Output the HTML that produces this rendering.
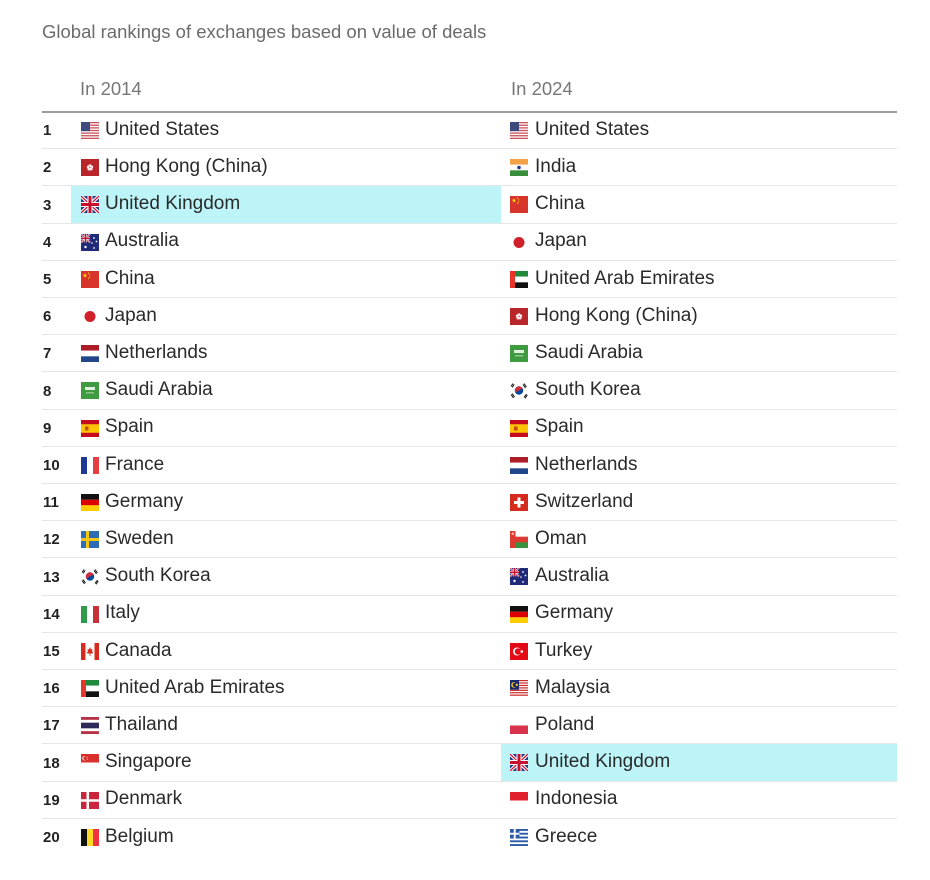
<!DOCTYPE html>
<html><head><meta charset="utf-8">
<style>
html,body{margin:0;padding:0}
body{width:930px;height:880px;background:#fff;position:relative;overflow:hidden;font-family:"Liberation Sans",Arial,sans-serif;}
.title{position:absolute;left:42px;top:23px;font-size:18.5px;line-height:1;color:#6b6b6b;white-space:nowrap}
.h{position:absolute;top:80px;font-size:18.5px;line-height:1;color:#777;white-space:nowrap}
.hl{position:absolute;left:42px;width:855px;top:111px;height:1.5px;background:#9d9d9d}
.hi{position:absolute;background:#bcf4f8;height:37.2px}
.row{position:absolute;left:42px;width:855px;height:37.2px;box-sizing:border-box;border-bottom:1px solid #e6e6e6}
.row.last{border-bottom:none}
.rk{position:absolute;left:1px;top:11.3px;font-size:15px;font-weight:bold;line-height:1;color:#222}
.f{position:absolute;top:10px;width:18px;height:17px}
.f1{left:39px}
.f2{left:468px}
.t{position:absolute;top:7.9px;font-size:19px;line-height:1;color:#2a2a2a;white-space:nowrap}
.t1{left:63px}
.t2{left:493px}
</style></head><body>
<svg width="0" height="0" style="position:absolute">
<defs>
<symbol id="uk" viewBox="0 0 18 17"><rect width="18" height="17" fill="#283a80"/><path d="M0,0L18,17M18,0L0,17" stroke="#fff" stroke-width="3.4"/><path d="M0,0L18,17M18,0L0,17" stroke="#c8102e" stroke-width="1.2"/><path d="M9,0V17M0,8.5H18" stroke="#fff" stroke-width="5"/><path d="M9,0V17M0,8.5H18" stroke="#c8102e" stroke-width="3"/></symbol>
<symbol id="us" viewBox="0 0 18 17"><rect width="18" height="17" fill="#fff"/><g fill="#c9525c"><rect y="0" width="18" height="1.31"/><rect y="2.62" width="18" height="1.31"/><rect y="5.23" width="18" height="1.31"/><rect y="7.85" width="18" height="1.31"/><rect y="10.46" width="18" height="1.31"/><rect y="13.08" width="18" height="1.31"/><rect y="15.69" width="18" height="1.31"/></g><rect width="9" height="9.15" fill="#3d4b7c"/></symbol>
<symbol id="hk" viewBox="0 0 18 17"><rect width="18" height="17" fill="#b8262c"/><g fill="#fff" opacity="0.9"><circle cx="9" cy="6.7" r="1.5"/><circle cx="10.71" cy="7.94" r="1.5"/><circle cx="10.06" cy="9.96" r="1.5"/><circle cx="7.94" cy="9.96" r="1.5"/><circle cx="7.29" cy="7.94" r="1.5"/></g><circle cx="9" cy="8.5" r="0.6" fill="#b8262c"/></symbol>
<symbol id="au" viewBox="0 0 18 17"><rect width="18" height="17" fill="#1f2a78"/><g transform="scale(0.5)"><path d="M0,0L18,17M18,0L0,17" stroke="#fff" stroke-width="3.4"/><path d="M0,0L18,17M18,0L0,17" stroke="#c8102e" stroke-width="1.2"/><path d="M9,0V17M0,8.5H18" stroke="#fff" stroke-width="5"/><path d="M9,0V17M0,8.5H18" stroke="#c8102e" stroke-width="3"/></g><g fill="#fff"><circle cx="4.5" cy="13" r="1.2"/><circle cx="13" cy="4" r="0.9"/><circle cx="15.5" cy="7.5" r="0.9"/><circle cx="13" cy="14" r="0.9"/><circle cx="11" cy="9" r="0.8"/></g></symbol>
<symbol id="cn" viewBox="0 0 18 17"><rect width="18" height="17" fill="#d7352b"/><polygon fill="#ffde00" points="4,2 4.56,3.73 6.38,3.73 4.9,4.79 5.47,6.52 4,5.45 2.53,6.52 3.1,4.79 1.62,3.73 3.44,3.73"/><g fill="#ffde00"><circle cx="7.5" cy="2" r="0.6"/><circle cx="8.6" cy="3.8" r="0.6"/><circle cx="8.6" cy="6" r="0.6"/><circle cx="7.5" cy="7.5" r="0.6"/></g></symbol>
<symbol id="jp" viewBox="0 0 18 17"><circle cx="9" cy="8.5" r="5.5" fill="#d0202a"/></symbol>
<symbol id="nl" viewBox="0 0 18 17"><rect width="18" height="5.67" fill="#ae1c28"/><rect y="5.67" width="18" height="5.66" fill="#fff"/><rect y="11.33" width="18" height="5.67" fill="#21468b"/></symbol>
<symbol id="sa" viewBox="0 0 18 17"><rect width="18" height="17" fill="#3f9b3f"/><rect x="4" y="5" width="10" height="3" fill="#fff" opacity="0.85"/><rect x="5" y="10.5" width="8" height="0.8" fill="#fff" opacity="0.8"/></symbol>
<symbol id="es" viewBox="0 0 18 17"><rect width="18" height="17" fill="#c60b1e"/><rect y="4.25" width="18" height="8.5" fill="#ffc400"/><rect x="4" y="6.5" width="3.5" height="4" fill="#ad1519" opacity="0.7"/></symbol>
<symbol id="fr" viewBox="0 0 18 17"><rect width="6" height="17" fill="#1f3a93"/><rect x="6" width="6" height="17" fill="#fff"/><rect x="12" width="6" height="17" fill="#e53f43"/></symbol>
<symbol id="de" viewBox="0 0 18 17"><rect width="18" height="5.67" fill="#111"/><rect y="5.67" width="18" height="5.66" fill="#dd0000"/><rect y="11.33" width="18" height="5.67" fill="#ffce00"/></symbol>
<symbol id="se" viewBox="0 0 18 17"><rect width="18" height="17" fill="#2e6db5"/><rect x="5" width="3" height="17" fill="#f5c518"/><rect y="7" width="18" height="3" fill="#f5c518"/></symbol>
<symbol id="kr" viewBox="0 0 18 17"><g transform="rotate(-30 9 8.5)"><circle cx="9" cy="8.5" r="4.2" fill="#0047a0"/><path d="M4.8,8.5A4.2,4.2 0 0 1 13.2,8.5Z" fill="#cd2e3a"/></g><g stroke="#111" stroke-width="1"><path d="M1,4.5L3,1.5M2.2,5.3L4.2,2.3"/><path d="M14,1.5L16.5,5M13,2.4L15.5,5.9"/><path d="M1,12.5L3.5,16M2,11.6L4.5,15.1"/><path d="M14,15.5L16.5,12M15,16.3L17.3,13"/></g></symbol>
<symbol id="it" viewBox="0 0 18 17"><rect width="6" height="17" fill="#2e9a4a"/><rect x="6" width="6" height="17" fill="#fff"/><rect x="12" width="6" height="17" fill="#c8313a"/></symbol>
<symbol id="ca" viewBox="0 0 18 17"><rect width="4.5" height="17" fill="#d52b1e"/><rect x="13.5" width="4.5" height="17" fill="#d52b1e"/><path d="M9,4L10,6.5L11.5,6L11,9L12.5,8.5L11.5,10.5L9.4,10.5V13H8.6V10.5L6.5,10.5L5.5,8.5L7,9L6.5,6L8,6.5Z" fill="#d52b1e"/></symbol>
<symbol id="ae" viewBox="0 0 18 17"><rect width="5" height="17" fill="#e8352a"/><rect x="5" width="13" height="5.67" fill="#1f8a3c"/><rect x="5" y="5.67" width="13" height="5.66" fill="#fff"/><rect x="5" y="11.33" width="13" height="5.67" fill="#111"/></symbol>
<symbol id="th" viewBox="0 0 18 17"><rect width="18" height="2.83" fill="#b83245"/><rect y="5.67" width="18" height="5.66" fill="#2d2a5a"/><rect y="14.17" width="18" height="2.83" fill="#b83245"/></symbol>
<symbol id="sg" viewBox="0 0 18 17"><rect width="18" height="8.5" fill="#d9302e"/><circle cx="3.5" cy="4.2" r="2.2" fill="#fff"/><circle cx="4.3" cy="4.2" r="1.9" fill="#d9302e"/><circle cx="6.2" cy="3.2" r="0.5" fill="#fff"/><circle cx="6.2" cy="5.2" r="0.5" fill="#fff"/></symbol>
<symbol id="dk" viewBox="0 0 18 17"><rect width="18" height="17" fill="#c8273d"/><rect x="5.5" width="2.5" height="17" fill="#fff"/><rect y="7.25" width="18" height="2.5" fill="#fff"/></symbol>
<symbol id="be" viewBox="0 0 18 17"><rect width="6" height="17" fill="#111"/><rect x="6" width="6" height="17" fill="#fdda24"/><rect x="12" width="6" height="17" fill="#ef3340"/></symbol>
<symbol id="in" viewBox="0 0 18 17"><rect width="18" height="5.67" fill="#f4a145"/><rect y="5.67" width="18" height="5.66" fill="#fff"/><rect y="11.33" width="18" height="5.67" fill="#3a8d3a"/><circle cx="9" cy="8.5" r="1.8" fill="#1c3a8a"/></symbol>
<symbol id="ch" viewBox="0 0 18 17"><rect width="18" height="17" fill="#d52b1e"/><rect x="7.5" y="3.5" width="3" height="10" fill="#fff"/><rect x="4" y="7" width="10" height="3" fill="#fff"/></symbol>
<symbol id="om" viewBox="0 0 18 17"><rect width="18" height="17" fill="#db3b30"/><rect x="5.5" width="12.5" height="5.67" fill="#fff"/><rect x="5.5" y="11.33" width="12.5" height="5.67" fill="#3a9340"/><circle cx="2.7" cy="2.7" r="1.2" fill="#fff" opacity="0.7"/></symbol>
<symbol id="tr" viewBox="0 0 18 17"><rect width="18" height="17" fill="#e30a17"/><circle cx="7" cy="8.5" r="4" fill="#fff"/><circle cx="8" cy="8.5" r="3.2" fill="#e30a17"/><circle cx="11.8" cy="8.5" r="1.3" fill="#fff"/></symbol>
<symbol id="my" viewBox="0 0 18 17"><rect width="18" height="17" fill="#fff"/><g fill="#cc2a2a"><rect y="0" width="18" height="1.21"/><rect y="2.43" width="18" height="1.21"/><rect y="4.86" width="18" height="1.21"/><rect y="7.29" width="18" height="1.21"/><rect y="9.71" width="18" height="1.21"/><rect y="12.14" width="18" height="1.21"/><rect y="14.57" width="18" height="1.21"/></g><rect width="9" height="9.7" fill="#1c2a6e"/><circle cx="4" cy="4.85" r="2.8" fill="#f5c518"/><circle cx="5" cy="4.85" r="2.3" fill="#1c2a6e"/><circle cx="6.8" cy="4.85" r="1.2" fill="#f5c518"/></symbol>
<symbol id="pl" viewBox="0 0 18 17"><rect y="8.5" width="18" height="8.5" fill="#d8334a"/></symbol>
<symbol id="id" viewBox="0 0 18 17"><rect width="18" height="8.5" fill="#e0202d"/></symbol>
<symbol id="gr" viewBox="0 0 18 17"><rect width="18" height="17" fill="#fff"/><g fill="#2b5ba8"><rect y="0" width="18" height="1.89"/><rect y="3.78" width="18" height="1.89"/><rect y="7.56" width="18" height="1.89"/><rect y="11.33" width="18" height="1.89"/><rect y="15.11" width="18" height="1.89"/><rect width="9.44" height="9.44"/></g><rect x="3.78" width="1.89" height="9.44" fill="#fff"/><rect y="3.78" width="9.44" height="1.89" fill="#fff"/></symbol>
</defs></svg>

<div class="title">Global rankings of exchanges based on value of deals</div>
<div class="h" style="left:80px">In 2014</div>
<div class="h" style="left:511px">In 2024</div>
<div class="hl"></div>

<div class="hi" style="left:71px;top:186.4px;width:430px"></div>
<div class="hi" style="left:501px;top:744.4px;width:396px"></div>

<div class="row" style="top:112px"><span class="rk">1</span><svg class="f f1"><use href="#us"/></svg><span class="t t1">United States</span><svg class="f f2"><use href="#us"/></svg><span class="t t2">United States</span></div>
<div class="row" style="top:149.2px"><span class="rk">2</span><svg class="f f1"><use href="#hk"/></svg><span class="t t1">Hong Kong (China)</span><svg class="f f2"><use href="#in"/></svg><span class="t t2">India</span></div>
<div class="row" style="top:186.4px"><span class="rk">3</span><svg class="f f1"><use href="#uk"/></svg><span class="t t1">United Kingdom</span><svg class="f f2"><use href="#cn"/></svg><span class="t t2">China</span></div>
<div class="row" style="top:223.6px"><span class="rk">4</span><svg class="f f1"><use href="#au"/></svg><span class="t t1">Australia</span><svg class="f f2"><use href="#jp"/></svg><span class="t t2">Japan</span></div>
<div class="row" style="top:260.8px"><span class="rk">5</span><svg class="f f1"><use href="#cn"/></svg><span class="t t1">China</span><svg class="f f2"><use href="#ae"/></svg><span class="t t2">United Arab Emirates</span></div>
<div class="row" style="top:298px"><span class="rk">6</span><svg class="f f1"><use href="#jp"/></svg><span class="t t1">Japan</span><svg class="f f2"><use href="#hk"/></svg><span class="t t2">Hong Kong (China)</span></div>
<div class="row" style="top:335.2px"><span class="rk">7</span><svg class="f f1"><use href="#nl"/></svg><span class="t t1">Netherlands</span><svg class="f f2"><use href="#sa"/></svg><span class="t t2">Saudi Arabia</span></div>
<div class="row" style="top:372.4px"><span class="rk">8</span><svg class="f f1"><use href="#sa"/></svg><span class="t t1">Saudi Arabia</span><svg class="f f2"><use href="#kr"/></svg><span class="t t2">South Korea</span></div>
<div class="row" style="top:409.6px"><span class="rk">9</span><svg class="f f1"><use href="#es"/></svg><span class="t t1">Spain</span><svg class="f f2"><use href="#es"/></svg><span class="t t2">Spain</span></div>
<div class="row" style="top:446.8px"><span class="rk">10</span><svg class="f f1"><use href="#fr"/></svg><span class="t t1">France</span><svg class="f f2"><use href="#nl"/></svg><span class="t t2">Netherlands</span></div>
<div class="row" style="top:484px"><span class="rk">11</span><svg class="f f1"><use href="#de"/></svg><span class="t t1">Germany</span><svg class="f f2"><use href="#ch"/></svg><span class="t t2">Switzerland</span></div>
<div class="row" style="top:521.2px"><span class="rk">12</span><svg class="f f1"><use href="#se"/></svg><span class="t t1">Sweden</span><svg class="f f2"><use href="#om"/></svg><span class="t t2">Oman</span></div>
<div class="row" style="top:558.4px"><span class="rk">13</span><svg class="f f1"><use href="#kr"/></svg><span class="t t1">South Korea</span><svg class="f f2"><use href="#au"/></svg><span class="t t2">Australia</span></div>
<div class="row" style="top:595.6px"><span class="rk">14</span><svg class="f f1"><use href="#it"/></svg><span class="t t1">Italy</span><svg class="f f2"><use href="#de"/></svg><span class="t t2">Germany</span></div>
<div class="row" style="top:632.8px"><span class="rk">15</span><svg class="f f1"><use href="#ca"/></svg><span class="t t1">Canada</span><svg class="f f2"><use href="#tr"/></svg><span class="t t2">Turkey</span></div>
<div class="row" style="top:670px"><span class="rk">16</span><svg class="f f1"><use href="#ae"/></svg><span class="t t1">United Arab Emirates</span><svg class="f f2"><use href="#my"/></svg><span class="t t2">Malaysia</span></div>
<div class="row" style="top:707.2px"><span class="rk">17</span><svg class="f f1"><use href="#th"/></svg><span class="t t1">Thailand</span><svg class="f f2"><use href="#pl"/></svg><span class="t t2">Poland</span></div>
<div class="row" style="top:744.4px"><span class="rk">18</span><svg class="f f1"><use href="#sg"/></svg><span class="t t1">Singapore</span><svg class="f f2"><use href="#uk"/></svg><span class="t t2">United Kingdom</span></div>
<div class="row" style="top:781.6px"><span class="rk">19</span><svg class="f f1"><use href="#dk"/></svg><span class="t t1">Denmark</span><svg class="f f2"><use href="#id"/></svg><span class="t t2">Indonesia</span></div>
<div class="row last" style="top:818.8px"><span class="rk">20</span><svg class="f f1"><use href="#be"/></svg><span class="t t1">Belgium</span><svg class="f f2"><use href="#gr"/></svg><span class="t t2">Greece</span></div>
</body></html>
